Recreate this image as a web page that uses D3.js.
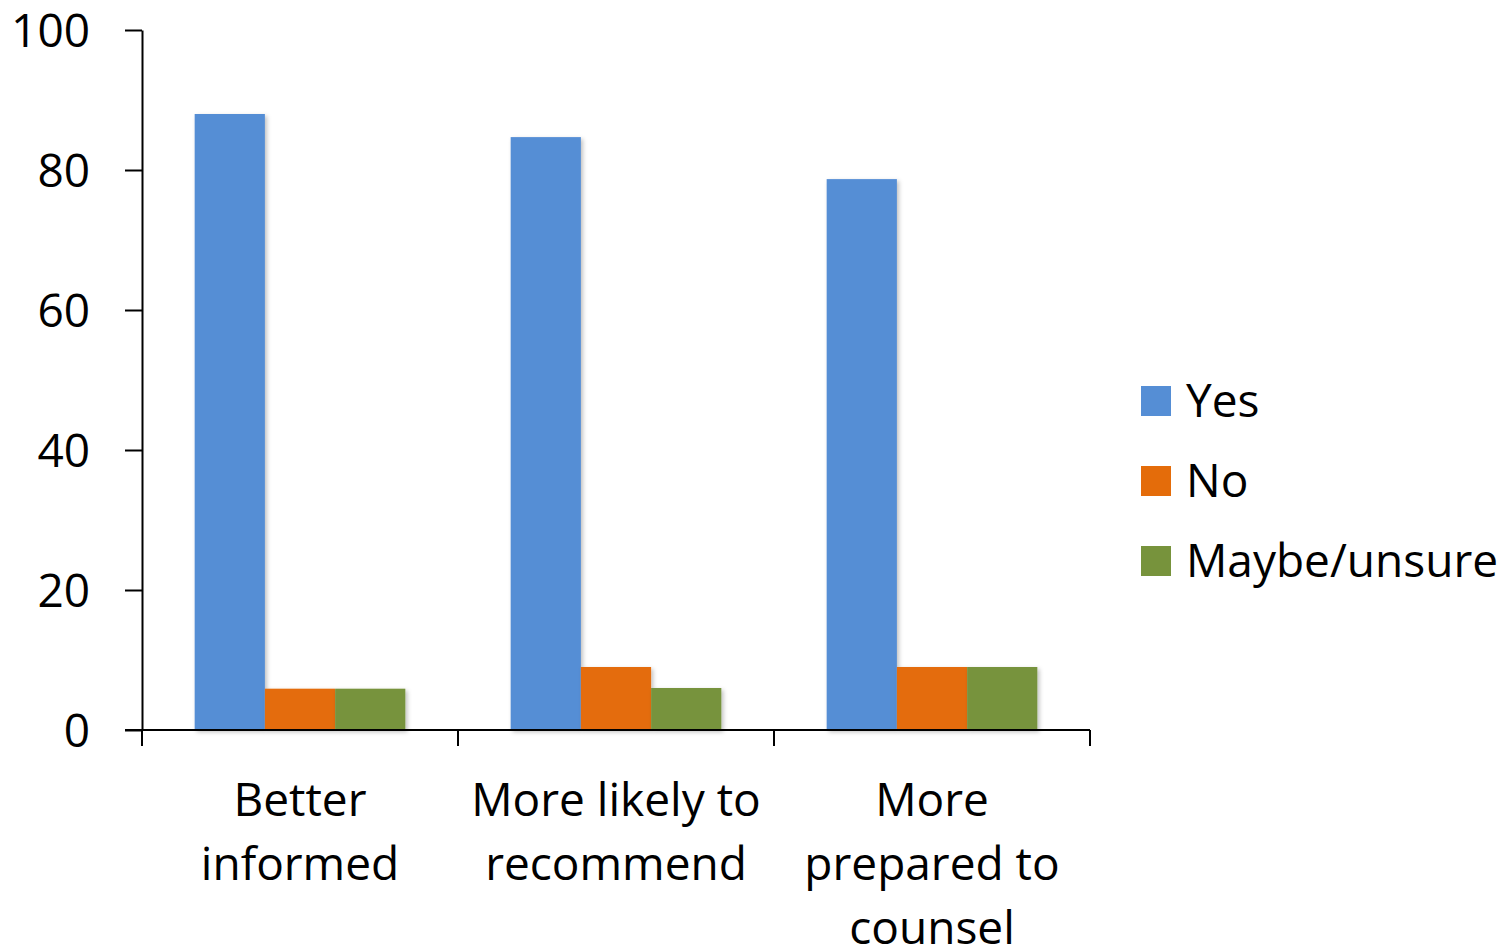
<!DOCTYPE html>
<html>
<head>
<meta charset="utf-8">
<script src="https://cdn.jsdelivr.net/npm/d3@7"></script>
<style>
  body { margin: 0; background: #fff; }
  text { font-family: "Open Sans", "Noto Sans", sans-serif; fill: #000; }
</style>
</head>
<body>
<div id="chart"></div>
<script>
(function(){

    // data
    var categories = [["Better", "informed"], ["More likely to", "recommend"], ["More", "prepared to", "counsel"]];
    var seriesNames = ["Yes", "No", "Maybe/unsure"];
    var yesValues = [88, 84.7, 78.7];
    var noValues = [5.9, 9, 9];
    var maybeValues = [5.9, 6, 9];
    var yTicks = [0, 20, 40, 60, 80, 100];
    var colors = ["#558ed5", "#e46c0a", "#77933c"];

    var width = 1507;
    var height = 949;
    var margin = {top: 30, left: 142, right: 417, bottom: 219};
    var effWidth = width - margin.left - margin.right;
    var effHeight = height - margin.top - margin.bottom;
    var fontSize = 46;

    var svg = d3.select("#chart").append("svg")
        .attr("width", width)
        .attr("height", height);

    var defs = svg.append("defs");
    var f = defs.append("filter").attr("id", "shadow")
        .attr("x", "-10%").attr("y", "-10%").attr("width", "130%").attr("height", "130%");
    f.append("feDropShadow").attr("dx", 2).attr("dy", 2).attr("stdDeviation", 2)
        .attr("flood-color", "#000").attr("flood-opacity", 0.25);

    var g = svg.append("g").attr("transform", "translate(" + margin.left + "," + margin.top + ")");

    var catIdx = d3.range(categories.length);
    var x0 = d3.scaleBand().domain(catIdx).range([0, effWidth]).paddingInner(0).paddingOuter(0);
    var x1 = d3.scaleBand().domain(d3.range(seriesNames.length))
        .range([0, x0.bandwidth()]).paddingInner(0).paddingOuter(0.75);
    var y = d3.scaleLinear().domain([0, 100]).range([effHeight, 0]);

    var series = [yesValues, noValues, maybeValues];
    var rows = [];
    catIdx.forEach(function(c){
        series.forEach(function(s, i){ rows.push({c: c, s: i, v: s[c]}); });
    });

    g.append("g").selectAll("rect")
        .data(rows).enter().append("rect")
        .attr("x", function(d){ return x0(d.c) + x1(d.s); })
        .attr("y", function(d){ return y(d.v); })
        .attr("width", x1.bandwidth())
        .attr("height", function(d){ return effHeight - y(d.v); })
        .attr("fill", function(d){ return colors[d.s]; })
        .attr("filter", "url(#shadow)");

    // y axis
    var yAxis = g.append("g")
        .call(d3.axisLeft(y).tickValues(yTicks).tickSize(17).tickPadding(35).tickSizeOuter(0));
    yAxis.select(".domain").attr("stroke", "#000").attr("stroke-width", 2);
    yAxis.selectAll(".tick line").attr("stroke", "#000").attr("stroke-width", 2);
    yAxis.selectAll(".tick text")
        .style("font-family", "'Open Sans', sans-serif")
        .attr("font-size", fontSize).attr("fill", "#000").attr("dy", "0.35em");

    // x axis
    var xg = g.append("g").attr("transform", "translate(0," + effHeight + ")");
    xg.append("line").attr("x1", -17).attr("x2", effWidth).attr("stroke", "#000").attr("stroke-width", 2);
    var xTicks = catIdx.map(function(c){ return x0(c); }).concat([effWidth]);
    xg.selectAll(".xt").data(xTicks).enter().append("line")
        .attr("x1", function(d){ return d; }).attr("x2", function(d){ return d; })
        .attr("y1", 0).attr("y2", 16)
        .attr("stroke", "#000").attr("stroke-width", 2);

    xg.selectAll(".xl").data(catIdx).enter().append("text")
        .attr("text-anchor", "middle")
        .attr("font-size", fontSize)
        .attr("x", function(c){ return x0(c) + x0.bandwidth() / 2; })
        .attr("y", 86)
        .each(function(c){
            var t = d3.select(this);
            categories[c].forEach(function(line, i){
                t.append("tspan")
                    .attr("x", x0(c) + x0.bandwidth() / 2)
                    .attr("dy", i === 0 ? 0 : 64)
                    .text(line);
            });
        });

    // legend
    var legend = svg.append("g").attr("transform", "translate(1141,386)");
    var items = legend.selectAll("g").data(seriesNames).enter().append("g")
        .attr("transform", function(d, i){ return "translate(0," + i * 80 + ")"; });
    items.append("rect").attr("width", 30).attr("height", 30)
        .attr("fill", function(d, i){ return colors[i]; });
    items.append("text").attr("x", 45).attr("y", 31)
        .attr("font-size", fontSize)
        .text(function(d){ return d; });

})();
</script>
</body>
</html>
